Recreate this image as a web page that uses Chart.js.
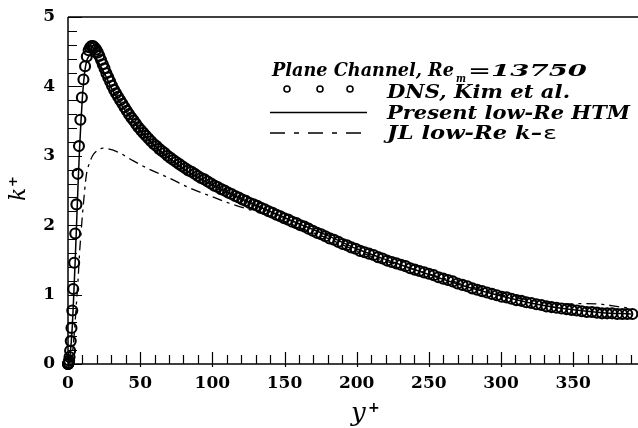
<!DOCTYPE html>
<html><head><meta charset="utf-8">
<script src="https://cdn.jsdelivr.net/npm/chart.js@4/dist/chart.umd.min.js"></script>
<style>html,body{margin:0;padding:0;background:#fff}canvas{display:block}</style>
</head><body>
<canvas id="c" width="638" height="428"></canvas>
<script>
// ---- data ----
const dnsX = [0,0.03,0.12,0.27,0.48,0.74,1.07,1.46,1.90,2.41,2.97,3.60,4.28,5.02,5.82,6.68,7.60,8.57,9.60,10.69,
 11.83,13.04,14.3,15.3,16.3,17.3,18.4,19.5,20.6,21.7,22.9,24.1,25.3,26.6,27.9,29.2,30.5,
 31.9,33.3,34.7,36.2,37.7,39.2,40.7,42.3,43.9,45.5,47.1,48.8,50.5,52.2,54.0,55.8,57.6,59.4,61.3,63.2,65.1,67.0,69.0,71.0,73.0,75.0,
 77.1,79.2,81.3,83.4,85.6,87.8,90.0,92.2,94.5,96.8,99.1,101.4,103.7,106.1,108.5,110.9,113.3,115.8,118.3,120.8,123.3,125.9,128.5,131.1,
 133.7,136.3,139.0,141.7,144.4,147.1,149.8,152.6,155.4,158.2,161.0,163.8,166.7,169.6,172.5,175.4,178.3,181.3,184.3,187.3,190.3,193.3,196.3,199.3,
 202.4,205.5,208.6,211.7,214.8,217.9,221.1,224.3,227.5,230.7,233.9,237.1,240.3,243.5,246.8,250.1,253.4,256.7,260.0,263.3,266.6,269.9,273.3,276.7,
 280.1,283.5,286.9,290.3,293.7,297.1,300.5,303.9,307.3,310.7,314.1,317.5,321.0,324.5,328.0,331.5,335.0,338.5,342.0,345.5,349.0,352.5,
 356.0,359.5,363.0,366.5,370.0,373.5,377.0,380.5,384.0,387.5,391.0,394.5];
const dnsK = [0,0,0,0.01,0.02,0.05,0.10,0.19,0.33,0.52,0.77,1.08,1.46,1.88,2.30,2.74,3.14,3.52,3.84,4.10,
 4.29,4.43,4.52,4.56,4.58,4.58,4.56,4.53,4.49,4.44,4.38,4.32,4.26,4.19,4.13,4.07,4.01,
 3.95,3.90,3.85,3.80,3.75,3.70,3.65,3.60,3.55,3.51,3.46,3.41,3.37,3.33,3.29,3.25,3.21,3.17,3.14,3.10,3.07,3.04,3.00,2.97,2.94,2.91,
 2.88,2.85,2.82,2.79,2.77,2.74,2.71,2.68,2.66,2.63,2.60,2.57,2.55,2.52,2.50,2.47,2.45,2.42,2.40,2.37,2.35,2.32,2.30,2.28,
 2.25,2.23,2.20,2.18,2.15,2.13,2.10,2.08,2.05,2.03,2.00,1.98,1.95,1.92,1.89,1.87,1.84,1.81,1.79,1.76,1.73,1.71,1.68,1.66,
 1.63,1.61,1.59,1.57,1.54,1.52,1.49,1.47,1.45,1.43,1.41,1.38,1.36,1.34,1.32,1.30,1.28,1.25,1.23,1.21,1.19,1.16,1.14,1.12,
 1.09,1.07,1.05,1.03,1.01,0.99,0.97,0.96,0.94,0.92,0.91,0.89,0.88,0.86,0.85,0.83,0.82,0.81,0.80,0.79,0.78,0.77,
 0.76,0.75,0.75,0.74,0.73,0.73,0.73,0.72,0.72,0.72,0.72,0.72];

const htmX = [0,1,2,3,4,5,6,7,8,9,10,11,12,13,14,15,16,18,20,25,30,35,40,50,60,70,80,90,100,120,140,160,180,200,225,250,275,300,325,350,370,390];
const htmK = [0,0.07,0.25,0.55,1.0,1.5,2.05,2.6,3.1,3.5,3.85,4.1,4.27,4.37,4.42,4.44,4.44,4.42,4.38,4.2,3.98,3.8,3.64,3.37,3.15,2.97,2.82,2.69,2.58,2.38,2.2,2.02,1.85,1.66,1.47,1.29,1.12,0.98,0.86,0.78,0.74,0.72];

const jlX = [0,2,3,4,5,6,7,8,9,10,11,12,13,15,17,20,24,28,35,45,55,70,85,100,110,125,140,160,180,200,225,250,275,300,320,340,355,370,380,390];
const jlK = [0,0.05,0.15,0.35,0.62,0.92,1.22,1.6,1.88,2.15,2.38,2.6,2.76,2.9,3.0,3.07,3.11,3.1,3.05,2.93,2.82,2.68,2.53,2.41,2.33,2.23,2.14,1.97,1.81,1.63,1.45,1.30,1.14,1.0,0.92,0.86,0.87,0.86,0.83,0.80];

const xTickLabels = [0,50,100,150,200,250,300,350];
const yTickLabels = [0,1,2,3,4,5];
const legendTitle = 'Plane Channel, Re';
const legendTitleSub = 'm';
const legendTitleEnd = '=13750';
const seriesNames = ['DNS, Kim et al.', 'Present low-Re HTM', 'JL low-Re k\u2013'];
const epsilonChar = '\u03b5';
const xTitle = 'y', yTitle = 'k';

const pts = (xs, ys) => xs.map((v, i) => ({x: v, y: ys[i]}));

// draw text stretched horizontally to a target width
function fitText(ctx, str, x, y, w) {
  const m = ctx.measureText(str).width;
  ctx.save();
  ctx.translate(x, y);
  ctx.scale(w / m, 1);
  ctx.fillText(str, 0, 0);
  ctx.restore();
}

const decor = {
  id: 'decor',
  afterDraw(chart) {
    const {ctx, chartArea: a, scales: {x, y}} = chart;
    const W = chart.width;
    ctx.save();
    ctx.strokeStyle = '#000';
    ctx.fillStyle = '#000';
    ctx.lineWidth = 1.5;
    ctx.beginPath();
    ctx.moveTo(a.left, a.top); ctx.lineTo(W, a.top);
    ctx.moveTo(a.left, a.top); ctx.lineTo(a.left, a.bottom); ctx.lineTo(W, a.bottom);
    ctx.stroke();
    ctx.lineWidth = 1.2;
    ctx.beginPath();
    for (let i = 0; i * 10 <= x.max; i++) {
      const px = Math.round(x.getPixelForValue(i * 10)) + 0.5;
      const major = xTickLabels.includes(i * 10);
      ctx.moveTo(px, a.bottom - (major ? 12 : 9));
      ctx.lineTo(px, a.bottom + (major ? 3 : 0));
    }
    for (let i = 0; i <= 25; i++) {
      const py = Math.round(y.getPixelForValue(i / 5)) + 0.5;
      const major = i % 5 === 0;
      ctx.moveTo(a.left, py);
      ctx.lineTo(a.left + (major ? 14 : 9), py);
    }
    ctx.stroke();

    // tick labels
    ctx.font = 'bold 17px "DejaVu Serif"';
    ctx.textBaseline = 'middle';
    ctx.textAlign = 'center';
    xTickLabels.forEach(v => ctx.fillText(String(v), x.getPixelForValue(v), a.bottom + 20));
    ctx.textAlign = 'right';
    yTickLabels.forEach(v => ctx.fillText(String(v), a.left - 13, y.getPixelForValue(v)));

    // axis titles
    ctx.textAlign = 'left';
    ctx.textBaseline = 'alphabetic';
    ctx.font = 'italic 26px "DejaVu Serif"';
    ctx.fillText(xTitle, 351, 421);
    ctx.font = 'bold 14px "DejaVu Sans"';
    ctx.fillText('+', 368, 412);

    ctx.save();
    ctx.translate(25, 201);
    ctx.rotate(-Math.PI / 2);
    ctx.font = 'italic 22px "DejaVu Serif"';
    ctx.fillText(yTitle, 0, 0);
    ctx.font = 'bold 13px "DejaVu Sans"';
    ctx.fillText('+', 14, -8);
    ctx.restore();

    // legend
    const f = 'bold italic 18px "DejaVu Serif"';
    ctx.font = f;
    fitText(ctx, legendTitle, 272, 76, 182);
    ctx.font = 'bold italic 11px "DejaVu Serif"';
    fitText(ctx, legendTitleSub, 456, 82, 10);
    ctx.font = 'bold italic 17px "DejaVu Serif"';
    fitText(ctx, legendTitleEnd, 468, 76, 119);
    ctx.font = f;

    ctx.lineWidth = 1.6;
    [287, 320, 350].forEach(cxp => { ctx.beginPath(); ctx.arc(cxp, 89, 3, 0, Math.PI * 2); ctx.stroke(); });
    fitText(ctx, seriesNames[0], 387, 97.5, 183);

    ctx.lineWidth = 1.5;
    ctx.beginPath(); ctx.moveTo(270, 112.5); ctx.lineTo(367, 112.5); ctx.stroke();
    fitText(ctx, seriesNames[1], 387, 118.5, 243);

    ctx.lineWidth = 1.3;
    ctx.setLineDash([15, 9, 5, 9]);
    ctx.beginPath(); ctx.moveTo(270, 133); ctx.lineTo(367, 133); ctx.stroke();
    ctx.setLineDash([]);
    fitText(ctx, seriesNames[2], 387, 139, 155);
    ctx.font = '18px "DejaVu Sans"';
    fitText(ctx, epsilonChar, 543, 139, 14);
    ctx.restore();
  }
};

new Chart(document.getElementById('c'), {
  type: 'scatter',
  data: {
    datasets: [
      {data: pts(dnsX, dnsK), showLine: false, pointStyle: 'circle', pointRadius: 5,
       pointBorderWidth: 2.1, pointBorderColor: '#000', pointBackgroundColor: 'rgba(0,0,0,0)', clip: false},
      {data: pts(htmX, htmK), showLine: true, pointRadius: 0, borderColor: '#000', borderWidth: 1.5,
       cubicInterpolationMode: 'monotone'},
      {data: pts(jlX, jlK), showLine: true, pointRadius: 0, borderColor: '#000', borderWidth: 1.3,
       borderDash: [10, 5, 3, 5], cubicInterpolationMode: 'monotone'}
    ]
  },
  options: {
    responsive: false,
    animation: false,
    devicePixelRatio: 1,
    layout: {padding: {top: 17, right: 0, left: 0, bottom: 0}},
    plugins: {legend: {display: false}, tooltip: {enabled: false}},
    scales: {
      x: {
        type: 'linear', min: 0, max: 390,
        afterFit: s => { s.height = 64; },
        grid: {display: false, drawTicks: false},
        border: {display: false},
        ticks: {display: false, stepSize: 50, includeBounds: false}
      },
      y: {
        type: 'linear', min: 0, max: 5,
        afterFit: s => { s.width = 68; },
        grid: {display: false, drawTicks: false},
        border: {display: false},
        ticks: {display: false, stepSize: 1}
      }
    }
  },
  plugins: [decor]
});
</script>
</body></html>
